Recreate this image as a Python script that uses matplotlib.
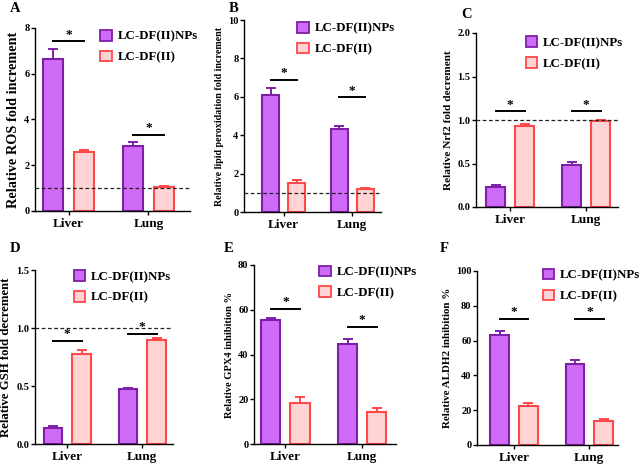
import matplotlib
matplotlib.use('Agg')
import matplotlib.pyplot as plt
from matplotlib.patches import Patch
import numpy as np

plt.rcParams['font.family'] = ['Liberation Serif', 'DejaVu Serif']
plt.rcParams['font.weight'] = 'bold'

W, H = 642, 466

groups = ['Liver', 'Lung']
series = ['LC-DF(II)NPs', 'LC-DF(II)']

# panel data: NPs mean / err, free drug mean / err, height of significance line
ros_np = [6.65, 2.85]
ros_np_err = [0.42, 0.17]
ros_free = [2.58, 1.05]
ros_free_err = [0.10, 0.05]
ros_sig = [7.42, 3.33]

lpo_np = [6.09, 4.30]
lpo_np_err = [0.35, 0.17]
lpo_free = [1.53, 1.18]
lpo_free_err = [0.13, 0.05]
lpo_sig = [6.87, 5.97]

nrf2_np = [0.225, 0.485]
nrf2_np_err = [0.025, 0.03]
nrf2_free = [0.93, 0.99]
nrf2_free_err = [0.02, 0.008]
nrf2_sig = [1.10, 1.10]

gsh_np = [0.138, 0.47]
gsh_np_err = [0.014, 0.015]
gsh_free = [0.78, 0.90]
gsh_free_err = [0.03, 0.018]
gsh_sig = [0.89, 0.95]

gpx4_np = [55.2, 44.9]
gpx4_np_err = [1.2, 2.1]
gpx4_free = [18.2, 14.5]
gpx4_free_err = [2.6, 1.8]
gpx4_sig = [60.4, 52.2]

aldh2_np = [63.5, 46.3]
aldh2_np_err = [2.3, 2.3]
aldh2_free = [22.6, 13.6]
aldh2_free_err = [1.6, 1.6]
aldh2_sig = [72.6, 72.6]

purple_fc, purple_ec = '#D06BF7', '#7E1FA8'
pink_fc, pink_ec = '#FFD4D4', '#FF4848'

# label, pixel box (left, right, top, bottom), xlim, ymax, yticks, ylabel, ylabel size,
# data..., legend anchor, dashed line, panel label position
panels = [
    ('A', (35, 190, 28, 211), (-0.42, 1.52), 8, [0, 2, 4, 6, 8], 'Relative ROS fold increment', 10.3,
     ros_np, ros_np_err, ros_free, ros_free_err, ros_sig, (0.42, 0.99), 1.0, (10, 8)),
    ('B', (244, 381, 20, 212), (-0.58, 1.42), 10, [0, 2, 4, 6, 8, 10], 'Relative lipid peroxidation fold increment', 7.2,
     lpo_np, lpo_np_err, lpo_free, lpo_free_err, lpo_sig, (0.39, 0.99), 1.0, (229, 8)),
    ('C', (476, 618, 33, 207), (-0.45, 1.42), 2.0, [0.0, 0.5, 1.0, 1.5, 2.0], 'Relative Nrf2 fold decrement', 8.1,
     nrf2_np, nrf2_np_err, nrf2_free, nrf2_free_err, nrf2_sig, (0.35, 0.98), 1.0, (461, 15)),
    ('D', (35, 173, 270, 444), (-0.43, 1.41), 1.5, [0.0, 0.5, 1.0, 1.5], 'Relative GSH fold decrement', 9.2,
     gsh_np, gsh_np_err, gsh_free, gsh_free_err, gsh_sig, (0.28, 1.0), 1.0, (10, 249)),
    ('E', (254, 396, 265, 444), (-0.41, 1.44), 80, [0, 20, 40, 60, 80], 'Relative GPX4 inhibition %', 7.6,
     gpx4_np, gpx4_np_err, gpx4_free, gpx4_free_err, gpx4_sig, (0.46, 0.997), None, (224, 249)),
    ('F', (477, 618, 271, 445), (-0.49, 1.38), 100, [0, 20, 40, 60, 80, 100], 'Relative ALDH2 inhibition %', 7.9,
     aldh2_np, aldh2_np_err, aldh2_free, aldh2_free_err, aldh2_sig, (0.465, 1.013), None, (440, 249)),
]

fig = plt.figure(figsize=(W / 100, H / 100), dpi=100)

bw = 0.25
off = 0.19
x = np.arange(len(groups))

for (lab, box, xlim, ymax, yticks, ylabel, ylsize, np_v, np_e, fr_v, fr_e, sig, legpos, dash, labpos) in panels:
    l, r, t, b = box
    ax = fig.add_axes([l / W, 1 - b / H, (r - l) / W, (b - t) / H])

    ax.bar(x - off, np_v, bw, color=purple_fc, edgecolor=purple_ec, linewidth=1.5,
           yerr=[np.zeros(2), np_e], error_kw=dict(ecolor=purple_ec, elinewidth=1.4, capsize=3.5, capthick=1.4),
           zorder=2)
    ax.bar(x + off, fr_v, bw, color=pink_fc, edgecolor=pink_ec, linewidth=1.5,
           yerr=[np.zeros(2), fr_e], error_kw=dict(ecolor=pink_ec, elinewidth=1.4, capsize=3.5, capthick=1.4),
           zorder=2)

    if dash is not None:
        ax.axhline(dash, color='#222222', linestyle=(0, (3, 2)), linewidth=0.9, zorder=3)

    for i in range(len(groups)):
        ax.plot([x[i] - off, x[i] + off], [sig[i], sig[i]], color='black', linewidth=1.4, zorder=4)
        ax.text(x[i], sig[i] + ymax * 0.004, '*', ha='center', va='bottom', fontsize=9.5, fontweight='bold')

    ax.set_xlim(xlim)
    ax.set_ylim(0, ymax)
    ax.set_yticks(yticks)
    if ymax <= 2:
        ax.set_yticklabels(['%.1f' % v for v in yticks])
    ax.set_xticks(x)
    ax.set_xticklabels(groups, fontsize=9.5, fontweight='bold')
    ax.tick_params(axis='y', labelsize=7.5, length=3, width=1, pad=1)
    ax.tick_params(axis='x', length=3, width=1, pad=2)
    ax.spines['top'].set_visible(False)
    ax.spines['right'].set_visible(False)
    ax.spines['left'].set_linewidth(1)
    ax.spines['bottom'].set_linewidth(1)
    ax.set_ylabel(ylabel, fontsize=ylsize, fontweight='bold', labelpad=3)

    handles = [Patch(facecolor=purple_fc, edgecolor=purple_ec, linewidth=1.3),
               Patch(facecolor=pink_fc, edgecolor=pink_ec, linewidth=1.3)]
    ax.legend(handles, series, loc='upper left', bbox_to_anchor=legpos, frameon=False,
              prop=dict(size=9.3, weight='bold'), handlelength=0.9, handleheight=0.9,
              handletextpad=0.45, labelspacing=0.62, borderaxespad=0, borderpad=0)

    fig.text(labpos[0] / W, 1 - labpos[1] / H, lab, fontsize=10.5, fontweight='bold', va='center', ha='left')

fig.savefig('out.png', dpi=100)
